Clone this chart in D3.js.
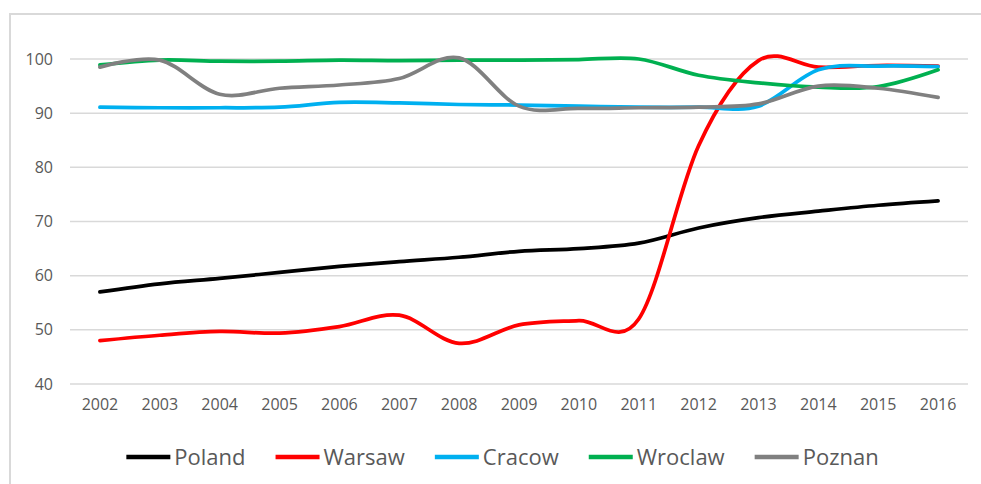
<!DOCTYPE html>
<html>
<head>
<meta charset="utf-8">
<script src="https://cdn.jsdelivr.net/npm/d3@7"></script>
<style>
  html, body { margin: 0; padding: 0; background: #fff; }
  svg { display: block; }
  text { font-family: "Open Sans", "Liberation Sans", sans-serif; fill: #595959; }
</style>
</head>
<body>
<script>
const years = ["2002","2003","2004","2005","2006","2007","2008","2009","2010","2011","2012","2013","2014","2015","2016"];
const yTicks = [40, 50, 60, 70, 80, 90, 100];
const seriesNames = ["Poland", "Warsaw", "Cracow", "Wroclaw", "Poznan"];
const poland  = [57.0, 58.5, 59.5, 60.6, 61.7, 62.6, 63.4, 64.5, 65.0, 66.0, 68.8, 70.7, 71.9, 73.0, 73.8];
const warsaw  = [48.0, 49.0, 49.7, 49.4, 50.6, 52.7, 47.5, 50.9, 51.7, 52.0, 84.0, 99.7, 98.5, 98.8, 98.7];
const cracow  = [91.1, 91.0, 91.0, 91.1, 92.0, 91.9, 91.6, 91.5, 91.3, 91.1, 91.1, 91.3, 98.0, 98.7, 98.6];
const wroclaw = [98.9, 99.8, 99.6, 99.6, 99.8, 99.7, 99.8, 99.8, 99.9, 100.0, 97.0, 95.6, 94.8, 94.9, 98.0];
const poznan  = [98.5, 99.8, 93.5, 94.6, 95.2, 96.4, 100.2, 91.3, 90.9, 91.0, 91.1, 91.7, 95.0, 94.6, 92.9];
const colors  = ["#000000", "#ff0000", "#00b0f0", "#00b050", "#808080"];

const series = [poland, warsaw, cracow, wroclaw, poznan].map((v, i) => ({ name: seriesNames[i], values: v, color: colors[i] }));

const W = 981, H = 484;
const plot = { left: 70, right: 968, top: 59, bottom: 384 };

const svg = d3.select("body").append("svg").attr("width", W).attr("height", H);
svg.append("rect").attr("width", W).attr("height", H).attr("fill", "#fff");

// chart area border (partially outside the picture)
svg.append("rect").attr("x", 10).attr("y", 14).attr("width", 1000).attr("height", 520)
  .attr("fill", "none").attr("stroke", "#d9d9d9").attr("stroke-width", 2);

const x = d3.scaleBand().domain(years).range([plot.left, plot.right]);
const y = d3.scaleLinear().domain([40, 100]).range([plot.bottom, plot.top]);

// gridlines
svg.append("g").selectAll("line").data(yTicks).join("line")
  .attr("x1", plot.left).attr("x2", plot.right)
  .attr("y1", d => y(d)).attr("y2", d => y(d))
  .attr("stroke", "#d9d9d9").attr("stroke-width", 1.5);

// y axis labels
const yAxis = d3.axisLeft(y).tickValues(yTicks).tickSize(0).tickPadding(17);
const gy = svg.append("g").attr("transform", `translate(${plot.left},0)`).call(yAxis);
gy.select(".domain").remove();
gy.selectAll("text").style("font-size", "16px").attr("fill", "#595959")
  .style("font-family", "'Open Sans', sans-serif");

// x axis labels
const xAxis = d3.axisBottom(x).tickSize(0).tickPadding(15);
const gx = svg.append("g").attr("transform", `translate(0,${plot.bottom})`).call(xAxis);
gx.select(".domain").remove();
gx.selectAll("text").style("font-size", "16px").attr("fill", "#595959")
  .style("font-family", "'Open Sans', sans-serif");

// lines
const line = d3.line()
  .x((d, i) => x(years[i]) + x.bandwidth() / 2)
  .y(d => y(d))
  .curve(d3.curveCardinal.tension(0));

svg.append("g").selectAll("path").data(series).join("path")
  .attr("d", d => line(d.values))
  .attr("fill", "none")
  .attr("stroke", d => d.color)
  .attr("stroke-width", 3.75)
  .attr("stroke-linecap", "round")
  .attr("stroke-linejoin", "round");

// legend
const legend = svg.append("g");
const lineLen = 44, gap = 4, itemGap = 30, legendY = 457;
const items = legend.selectAll("g").data(series).join("g");
items.append("line")
  .attr("x1", 0).attr("x2", lineLen).attr("y1", 0).attr("y2", 0)
  .attr("stroke", d => d.color).attr("stroke-width", 4.5);
items.append("text")
  .attr("x", lineLen + gap).attr("y", 0).attr("dy", "0.35em")
  .style("font-size", "22px")
  .text(d => d.name);
let cx = 0;
const offsets = [];
items.each(function () {
  offsets.push(cx);
  const tw = d3.select(this).select("text").node().getComputedTextLength();
  cx += lineLen + gap + tw + itemGap;
});
const total = cx - itemGap;
const startX = 502.5 - total / 2;
items.attr("transform", (d, i) => `translate(${startX + offsets[i]},${legendY})`);
</script>
</body>
</html>
